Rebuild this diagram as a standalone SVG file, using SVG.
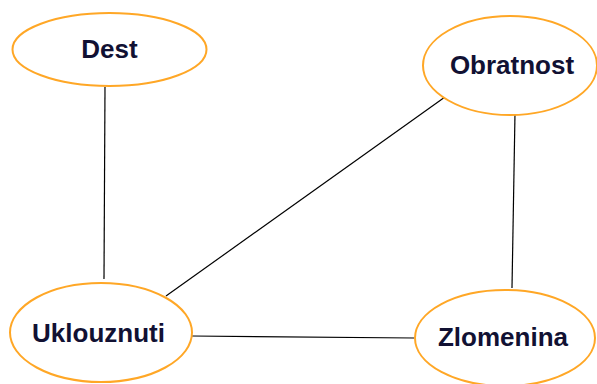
<svg xmlns="http://www.w3.org/2000/svg" width="597" height="384" viewBox="0 0 597 384">
<style>
.n ellipse{fill:#fff;stroke:#FFA726;stroke-width:2}
.n text{font-family:"Liberation Sans",Arial,sans-serif;font-weight:bold;font-size:26px;fill:#111133;text-anchor:middle}
.e line{stroke:#000;stroke-width:1.2}
</style>
<rect width="597" height="384" fill="#fff"/>
<g id="edges" class="e">
<line x1="105" y1="87" x2="104" y2="279"/>
<line x1="445" y1="97" x2="166" y2="296"/>
<line x1="515" y1="113" x2="512" y2="288"/>
<line x1="192" y1="336" x2="414" y2="338"/>
</g>
<g id="dest" class="n"><ellipse cx="109.5" cy="49.5" rx="97" ry="36.5"/><text x="109.5" y="57.5">Dest</text></g>
<g id="obratnost" class="n"><ellipse cx="510" cy="65.5" rx="87" ry="49.5"/><text x="512" y="73.5">Obratnost</text></g>
<g id="uklouznuti" class="n"><ellipse cx="101" cy="332.5" rx="91" ry="49.5"/><text x="98.5" y="341.5">Uklouznuti</text></g>
<g id="zlomenina" class="n"><ellipse cx="505" cy="338" rx="90" ry="48"/><text x="503" y="345.5">Zlomenina</text></g>
</svg>
